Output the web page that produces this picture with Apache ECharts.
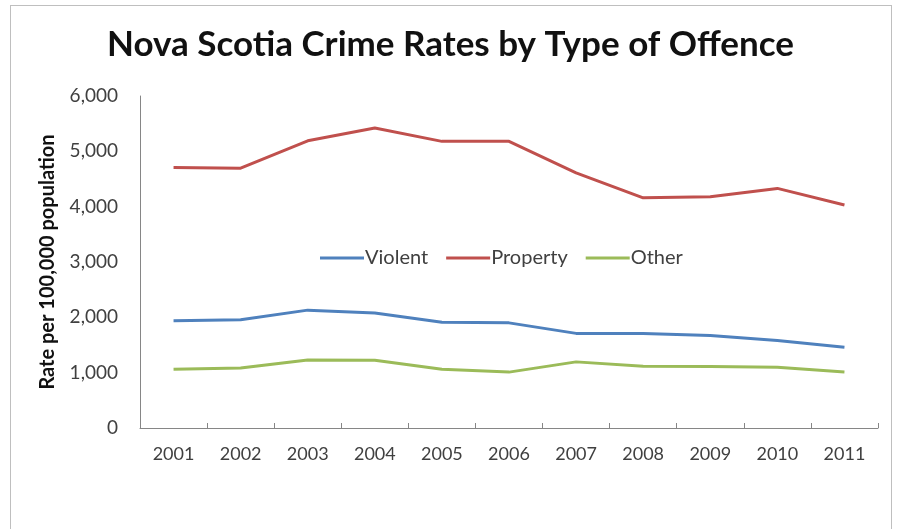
<!DOCTYPE html>
<html>
<head>
<meta charset="utf-8">
<script src="https://cdn.jsdelivr.net/npm/echarts@6/dist/echarts.min.js"></script>
<style>
    html, body { margin: 0; padding: 0; background: #fff; }
    #frame { position: absolute; left: 10px; top: 5px; width: 882px; height: 530px; border: 1px solid #bfbfbf; box-sizing: border-box; }
    #chart { position: absolute; left: 0; top: 0; width: 901px; height: 529px; }
</style>
</head>
<body>
<div id="frame"></div>
<div id="chart"></div>
<script>
    var years = ['2001', '2002', '2003', '2004', '2005', '2006', '2007', '2008', '2009', '2010', '2011'];
    var violent = [1940, 1955, 2130, 2080, 1910, 1900, 1710, 1710, 1670, 1580, 1460];
    var property = [4710, 4695, 5190, 5420, 5180, 5180, 4610, 4160, 4180, 4330, 4030];
    var other = [1060, 1085, 1230, 1225, 1060, 1010, 1195, 1115, 1110, 1100, 1010];
    var yTicks = [0, 1000, 2000, 3000, 4000, 5000, 6000];

    var myChart = echarts.init(document.getElementById('chart'));
    var font = 'Lato, "Open Sans", sans-serif';

    function fmt(v) {
        return String(v).replace(/\B(?=(\d{3})+(?!\d))/g, ',');
    }

    myChart.setOption({
        animation: false,
        title: {
            text: 'Nova Scotia Crime Rates by Type of Offence',
            left: 'center',
            top: 22,
            textStyle: { fontFamily: font, fontWeight: 'bold', fontSize: 35, color: '#111' }
        },
        legend: {
            left: 315,
            top: 243,
            itemWidth: 44,
            itemHeight: 3,
            itemGap: 18,
            icon: 'rect',
            textStyle: { fontFamily: font, fontSize: 20, color: '#404040', padding: [0, 0, 0, -4] },
            data: ['Violent', 'Property', 'Other']
        },
        grid: { left: 140, right: 23, top: 96, bottom: 101 },
        xAxis: {
            type: 'category',
            data: years,
            boundaryGap: true,
            axisLine: { lineStyle: { color: '#868686', width: 1 } },
            axisTick: { show: true, length: 5, inside: true, lineStyle: { color: '#868686' } },
            axisLabel: { fontFamily: font, fontSize: 18, color: '#404040', margin: 17 }
        },
        yAxis: {
            type: 'value',
            min: yTicks[0],
            max: yTicks[yTicks.length - 1],
            interval: 1000,
            name: 'Rate per 100,000 population',
            nameLocation: 'middle',
            nameGap: 82,
            nameTextStyle: { fontFamily: font, fontWeight: 'bold', fontSize: 20, color: '#111' },
            axisLine: { show: true, lineStyle: { color: '#868686', width: 1 } },
            axisTick: { show: false },
            splitLine: { show: false },
            axisLabel: {
                fontFamily: font, fontSize: 19, color: '#404040', margin: 22,
                formatter: function (v) { return fmt(v); }
            }
        },
        series: [
            { name: 'Violent', type: 'line', data: violent, showSymbol: false, symbol: 'none',
              lineStyle: { width: 3, color: '#4F81BD' }, itemStyle: { color: '#4F81BD' } },
            { name: 'Property', type: 'line', data: property, showSymbol: false, symbol: 'none',
              lineStyle: { width: 3, color: '#C0504D' }, itemStyle: { color: '#C0504D' } },
            { name: 'Other', type: 'line', data: other, showSymbol: false, symbol: 'none',
              lineStyle: { width: 3, color: '#9BBB59' }, itemStyle: { color: '#9BBB59' } }
        ]
    });

    window.onresize = function () {
        myChart.resize();
    };
</script>
</body>
</html>
